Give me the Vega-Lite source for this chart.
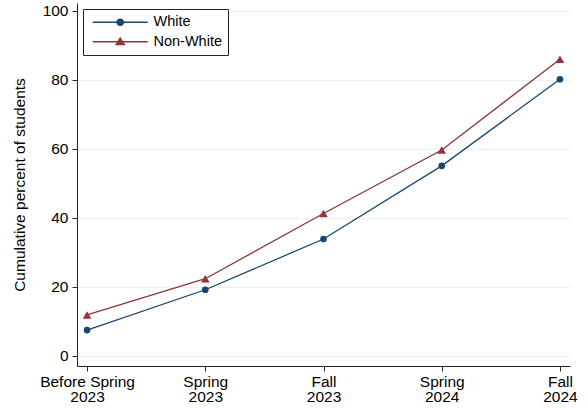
{
  "$schema": "https://vega.github.io/schema/vega-lite/v6.json",
  "width": 493,
  "height": 363,
  "autosize": {"type": "none"},
  "padding": {"left": 77, "top": 3, "right": 16, "bottom": 42},
  "background": "white",
  "data": {
    "values": [
      {"period": "Before Spring 2023", "group": "White", "pct": 7.5},
      {"period": "Spring 2023", "group": "White", "pct": 19.2},
      {"period": "Fall 2023", "group": "White", "pct": 33.9},
      {"period": "Spring 2024", "group": "White", "pct": 55.1},
      {"period": "Fall 2024", "group": "White", "pct": 80.2},
      {"period": "Before Spring 2023", "group": "Non-White", "pct": 11.9},
      {"period": "Spring 2023", "group": "Non-White", "pct": 22.4},
      {"period": "Fall 2023", "group": "Non-White", "pct": 41.3},
      {"period": "Spring 2024", "group": "Non-White", "pct": 59.7},
      {"period": "Fall 2024", "group": "Non-White", "pct": 86.0}
    ]
  },
  "encoding": {
    "x": {
      "field": "period",
      "type": "ordinal",
      "sort": ["Before Spring 2023", "Spring 2023", "Fall 2023", "Spring 2024", "Fall 2024"],
      "scale": {"type": "point", "padding": 0.085},
      "axis": {
        "title": null,
        "labelAngle": 0,
        "labelPadding": 3,
        "labelLineHeight": 15.5,
        "labelExpr": "[slice(datum.label, 0, lastindexof(datum.label, ' ')), slice(datum.label, lastindexof(datum.label, ' ') + 1)]"
      }
    },
    "y": {
      "field": "pct",
      "type": "quantitative",
      "scale": {"domain": [-2.9, 102.3], "nice": false, "zero": false},
      "axis": {
        "title": "Cumulative percent of students",
        "values": [0, 20, 40, 60, 80, 100],
        "grid": true,
        "gridColor": "#eaf2f3",
        "gridWidth": 1,
        "labelPadding": 4,
        "titlePadding": 15
      }
    }
  },
  "layer": [
    {
      "mark": {"type": "line", "strokeWidth": 1.3},
      "encoding": {
        "color": {
          "field": "group",
          "type": "nominal",
          "scale": {"domain": ["White", "Non-White"], "range": ["#1a476f", "#90353b"]},
          "legend": {
            "encode": {
              "symbols": {
                "update": {
                  "shape": {"signal": "datum.value === 'White' ? 'M-8.2,0H8.2M0.95,0A0.95,0.95 0 1,1 -0.95,0A0.95,0.95 0 1,1 0.95,0' : 'M-8.2,0H8.2M0,-1.1L1.25,0.85L-1.25,0.85Z'"},
                  "size": {"value": 45},
                  "stroke": {"signal": "datum.value === 'White' ? '#1a476f' : '#90353b'"},
                  "fill": {"signal": "datum.value === 'White' ? '#1a476f' : '#90353b'"},
                  "strokeWidth": {"value": 1.3},
                  "opacity": {"value": 1}
                }
              }
            }
          }
        }
      }
    },
    {
      "transform": [{"filter": "datum.group === 'White'"}],
      "mark": {"type": "point", "filled": true, "opacity": 1, "shape": "circle", "size": 45},
      "encoding": {
        "fill": {
          "field": "group",
          "type": "nominal",
          "legend": null,
          "scale": {"domain": ["White", "Non-White"], "range": ["#1a476f", "#90353b"]}
        }
      }
    },
    {
      "transform": [{"filter": "datum.group === 'Non-White'"}],
      "mark": {"type": "point", "filled": true, "opacity": 1, "shape": "triangle-up", "size": 75},
      "encoding": {
        "fill": {"field": "group", "type": "nominal", "legend": null}
      }
    }
  ],
  "config": {
    "font": "Liberation Sans",
    "view": {"stroke": null},
    "axis": {
      "domainColor": "#222222",
      "domainWidth": 1,
      "tickColor": "#222222",
      "tickSize": 5,
      "labelColor": "#000000",
      "labelFontSize": 15.5,
      "titleFontSize": 15.5,
      "titleFontWeight": "normal",
      "titleColor": "#000000",
      "labelPadding": 3
    },
    "legend": {
      "title": null,
      "orient": "top-left",
      "offset": 6,
      "strokeColor": "#222222",
      "strokeWidth": 1,
      "fillColor": "white",
      "padding": 6,
      "labelFontSize": 14.5,
      "labelColor": "#000000",
      "rowPadding": 4.5,
      "symbolOffset": 24,
      "labelOffset": 26,
      "symbolStrokeWidth": 1.3
    }
  }
}
